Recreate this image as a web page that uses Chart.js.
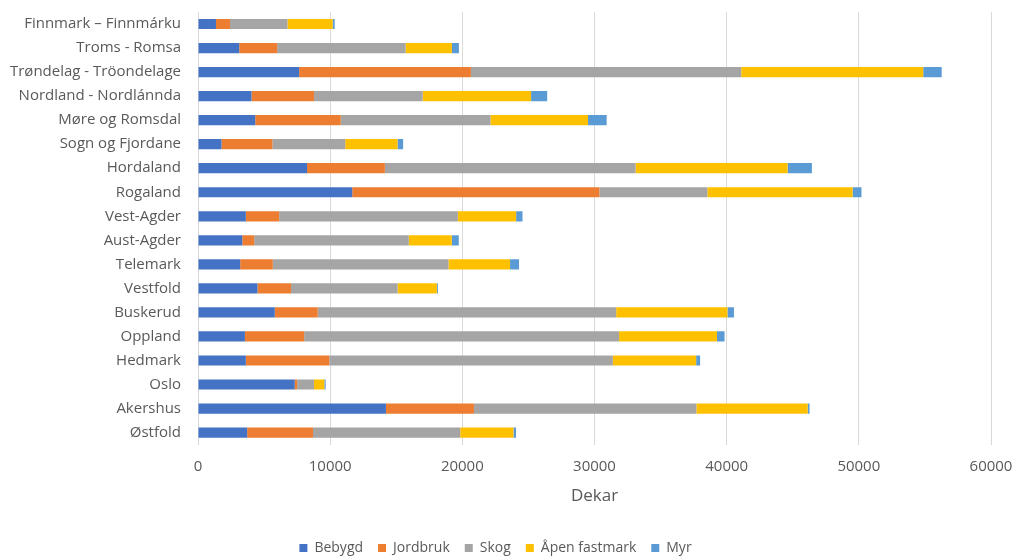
<!DOCTYPE html>
<html>
<head>
<meta charset="utf-8">
<script src="https://cdn.jsdelivr.net/npm/chart.js@4/dist/chart.umd.min.js"></script>
<style>
  html, body { margin: 0; padding: 0; background: #fff; }
  #wrap { width: 1014px; height: 556px; }
</style>
</head>
<body>
<div id="wrap"><canvas id="arealChart"></canvas></div>
<script>
// Arealbruk per fylke, dekar
const fylker = ["Finnmark – Finnmárku", "Troms - Romsa", "Trøndelag - Tröondelage",
    "Nordland - Nordlánnda", "Møre og Romsdal", "Sogn og Fjordane", "Hordaland",
    "Rogaland", "Vest-Agder", "Aust-Agder", "Telemark", "Vestfold", "Buskerud",
    "Oppland", "Hedmark", "Oslo", "Akershus", "Østfold"];

const bebygd       = [1360, 3120, 7650, 4050, 4330, 1780, 8250, 11670, 3620, 3350, 3190, 4500, 5810, 3550, 3620, 7320, 14220, 3720];
const jordbruk     = [1060, 2870, 13000, 4730, 6470, 3850, 5890, 18700, 2520, 900, 2470, 2540, 3250, 4480, 6310, 180, 6660, 4980];
const skog         = [4350, 9720, 20450, 8220, 11330, 5510, 18970, 8170, 13520, 11700, 13290, 8060, 22580, 23830, 21460, 1280, 16830, 11140];
const apenFastmark = [3420, 3500, 13770, 8200, 7380, 3960, 11500, 10990, 4410, 3250, 4660, 2970, 8420, 7410, 6300, 780, 8420, 4030];
const myr          = [150, 530, 1400, 1220, 1410, 420, 1840, 670, 480, 530, 680, 80, 490, 570, 300, 100, 140, 190];

const xTicks = [0, 10000, 20000, 30000, 40000, 50000, 60000];

const textColor = "#595959";
const fontFamily = "'Open Sans', 'Liberation Sans', sans-serif";

function serie(label, data, color) {
    return {
        label: label,
        data: data,
        backgroundColor: color,
        borderWidth: 0,
        barPercentage: 0.85,
        categoryPercentage: 0.5,
    };
}

new Chart("arealChart", {
    type: "bar",
    data: {
        labels: fylker,
        datasets: [
            serie("Bebygd", bebygd, "#4472C4"),
            serie("Jordbruk", jordbruk, "#ED7D31"),
            serie("Skog", skog, "#A5A5A5"),
            serie("Åpen fastmark", apenFastmark, "#FFC000"),
            serie("Myr", myr, "#5B9BD5"),
        ],
    },
    options: {
        indexAxis: "y",
        responsive: true,
        maintainAspectRatio: false,
        animation: false,
        layout: {
            padding: { top: 12, right: 23, bottom: -9, left: 0 },
        },
        plugins: {
            legend: {
                position: "bottom",
                labels: {
                    boxWidth: 8,
                    boxHeight: 8,
                    padding: 15,
                    color: textColor,
                    font: { family: fontFamily, size: 14 },
                },
            },
            tooltip: { enabled: false },
        },
        scales: {
            x: {
                stacked: true,
                min: 0,
                max: 60000,
                afterBuildTicks: axis => {
                    axis.ticks = xTicks.map(v => ({ value: v }));
                },
                // let layout.padding decide the right margin, not the last label
                afterFit: axis => { axis.paddingRight = 0; },
                grid: {
                    color: "#d9d9d9",
                    lineWidth: 1,
                    drawTicks: false,
                },
                border: { display: false },
                ticks: {
                    color: textColor,
                    padding: 13,
                    maxRotation: 0,
                    font: { family: fontFamily, size: 15 },
                    callback: value => value,
                },
                title: {
                    display: true,
                    text: "Dekar",
                    color: textColor,
                    font: { family: fontFamily, size: 17 },
                    padding: { top: -3, bottom: 20 },
                },
            },
            y: {
                stacked: true,
                grid: { display: false, drawTicks: false },
                border: { display: false },
                afterFit: axis => {
                    axis.width = 198;
                    axis.paddingTop = 0;
                    axis.paddingBottom = 0;
                },
                ticks: {
                    color: textColor,
                    padding: 17,
                    autoSkip: false,
                    font: { family: fontFamily, size: 15 },
                },
            },
        },
    },
});
</script>
</body>
</html>
